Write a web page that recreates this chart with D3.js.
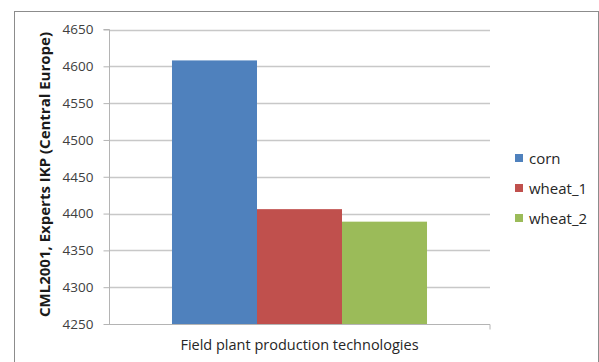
<!DOCTYPE html>
<html><head><meta charset="utf-8">
<script src="https://d3js.org/d3.v7.min.js"></script>
<style>body{margin:0;background:#fff}svg{display:block}</style>
</head><body>
<script>
const categories = ["Field plant production technologies"];
const seriesNames = ["corn", "wheat_1", "wheat_2"];
const seriesValues = [4608, 4406, 4389];
const seriesColors = ["#4f81bd", "#c0504d", "#9bbb59"];
const yTicks = [4250, 4300, 4350, 4400, 4450, 4500, 4550, 4600, 4650];
const yTitle = "CML2001, Experts IKP (Central Europe)";

const W = 599, H = 362;
const svg = d3.select("body").append("svg").attr("width", W).attr("height", H);
const font = "'Open Sans', 'Liberation Sans', sans-serif";

// chart border
svg.append("rect").attr("x", 14.5).attr("y", 11.5).attr("width", 584).attr("height", 360)
  .attr("fill", "#fff").attr("stroke", "#8c8c8c").attr("stroke-width", 1);

const plot = {left: 109, right: 490, top: 29.5, bottom: 324};
const y = d3.scaleLinear().domain([4250, 4650]).range([plot.bottom, plot.top]);
const x0 = d3.scaleBand().domain(categories).range([plot.left, plot.right]).paddingInner(0).paddingOuter(0.247);
const x1 = d3.scaleBand().domain(seriesNames).range([0, x0.bandwidth()]);

// gridlines
svg.append("g").selectAll("line").data(yTicks.slice(1)).join("line")
  .attr("x1", plot.left).attr("x2", plot.right)
  .attr("y1", d => Math.round(y(d)) + 0.5).attr("y2", d => Math.round(y(d)) + 0.5)
  .attr("stroke", "#c8c8c8").attr("stroke-width", 1.5);

// bars
const g = svg.append("g");
categories.forEach(c => {
  g.selectAll("rect.b").data(seriesNames).join("rect")
    .attr("x", s => x0(c) + x1(s))
    .attr("width", x1.bandwidth())
    .attr("y", (s, i) => y(seriesValues[i]))
    .attr("height", (s, i) => plot.bottom - y(seriesValues[i]))
    .attr("fill", (s, i) => seriesColors[i]);
});

// y axis
const yAxis = d3.axisLeft(y).tickValues(yTicks).tickFormat(d3.format("d")).tickSize(6).tickPadding(10);
const ya = svg.append("g").attr("transform", `translate(${plot.left + 0.5},0)`).call(yAxis);
ya.select(".domain").attr("stroke", "#b4b4b4").attr("d", `M-6,${plot.top}H0V${plot.bottom}`);
ya.selectAll(".tick line").attr("stroke", "#b4b4b4");
ya.selectAll(".tick text").attr("font-family", font).attr("font-size", 13.5).attr("fill", "#404040");

// x axis
const xAxis = d3.axisBottom(x0).tickSize(0).tickPadding(10).tickSizeOuter(5);
const xa = svg.append("g").attr("transform", `translate(0,${plot.bottom + 0.5})`).call(xAxis);
xa.select(".domain").attr("stroke", "#b4b4b4").attr("d", `M${plot.left},0H${plot.right}V5`);
xa.selectAll(".tick text").attr("font-family", font).attr("font-size", 14.5).attr("fill", "#262626")
  .attr("dy", null).attr("y", 350 - plot.bottom - 0.5);

// y title
svg.append("text").attr("transform", `translate(49.5,${(32 + 317) / 2}) rotate(-90)`)
  .attr("text-anchor", "middle").attr("font-family", font).attr("font-weight", "bold")
  .attr("font-size", 13.5).attr("fill", "#1a1a1a")
  .attr("textLength", 285).attr("lengthAdjust", "spacingAndGlyphs").text(yTitle);

// legend
const ly = d3.scalePoint().domain(seriesNames).range([158, 218]);
const lg = svg.append("g");
lg.selectAll("rect").data(seriesNames).join("rect")
  .attr("x", 515).attr("y", s => ly(s) - 4).attr("width", 8).attr("height", 8)
  .attr("fill", (s, i) => seriesColors[i]);
lg.selectAll("text").data(seriesNames).join("text")
  .attr("x", 529).attr("y", s => ly(s) + 5.5)
  .attr("font-family", font).attr("font-size", 15).attr("fill", "#262626").text(s => s);
</script>
</body></html>
